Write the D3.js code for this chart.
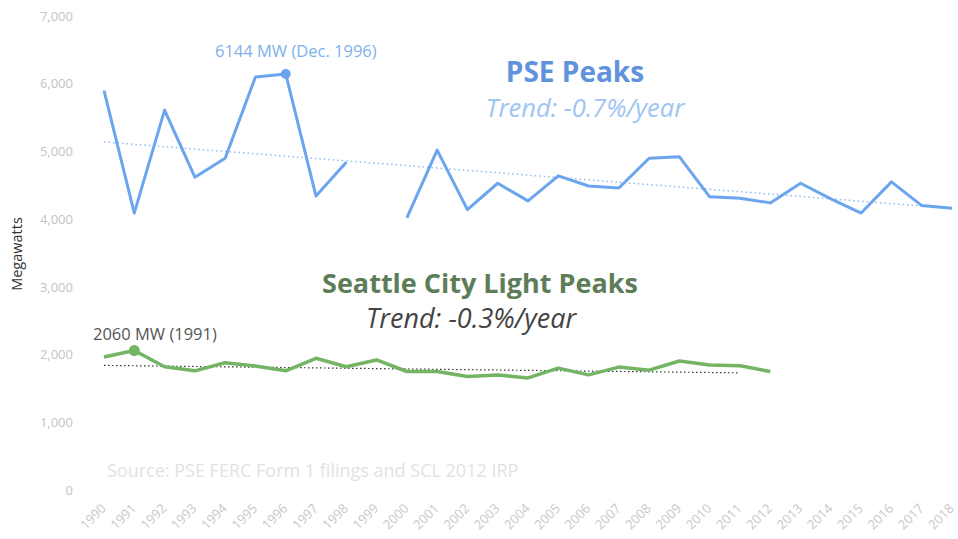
<!DOCTYPE html>
<html>
<head>
<meta charset="utf-8">
<script src="https://cdn.jsdelivr.net/npm/d3@7"></script>
<style>
  body { margin: 0; background: #fff; }
  text { font-family: "Open Sans", "Noto Sans", sans-serif; }
</style>
</head>
<body>
<script>
var years = d3.range(1990, 2019);
var yTicks = [0, 1000, 2000, 3000, 4000, 5000, 6000, 7000];

// PSE winter peaks (MW), no value for 1999
var pseYears = [1990, 1991, 1992, 1993, 1994, 1995, 1996, 1997, 1998, null,
                2000, 2001, 2002, 2003, 2004, 2005, 2006, 2007, 2008, 2009,
                2010, 2011, 2012, 2013, 2014, 2015, 2016, 2017, 2018];
var pseValues = [5900, 4090, 5610, 4620, 4900, 6100, 6144, 4340, 4840, null,
                 4020, 5020, 4140, 4530, 4270, 4640, 4490, 4460, 4900, 4920,
                 4330, 4310, 4240, 4530, 4300, 4090, 4550, 4200, 4160];
var pseTrend = [5140, 4160];

// Seattle City Light peaks (MW)
var sclYears = d3.range(1990, 2013);
var sclValues = [1965, 2060, 1820, 1760, 1880, 1830, 1760, 1945, 1820, 1920,
                 1750, 1750, 1675, 1700, 1655, 1800, 1700, 1815, 1770, 1905,
                 1845, 1835, 1750];
var sclTrend = [1840, 1730];

var w = 958;
var h = 539;

var x = d3.scaleLinear().domain([1990, 2018]).range([104, 952]);
var y = d3.scaleLinear().domain([0, 7000]).range([490, 16]);

var svg = d3.select("body")
    .append("svg")
    .attr("width", w)
    .attr("height", h);

// y axis labels
var yAxis = d3.axisLeft(y)
    .tickValues(yTicks)
    .tickFormat(d3.format(","))
    .tickSize(0)
    .tickPadding(0);

var gy = svg.append("g")
    .attr("transform", "translate(73,0)")
    .call(yAxis);
gy.select(".domain").remove();
gy.selectAll("text")
    .attr("fill", "#c4c4c4")
    .attr("font-size", "13px")
    .attr("font-family", "Open Sans, sans-serif");

svg.append("text")
    .attr("transform", "translate(22,254) rotate(-90)")
    .attr("text-anchor", "middle")
    .attr("font-size", "14.5px")
    .attr("fill", "#333")
    .text("Megawatts");

// x axis labels
var xAxis = d3.axisBottom(x)
    .tickValues(years)
    .tickFormat(d3.format("d"))
    .tickSize(0)
    .tickPadding(0);

var gx = svg.append("g")
    .attr("transform", "translate(0,500)")
    .call(xAxis);
gx.select(".domain").remove();
gx.selectAll("text")
    .attr("fill", "#c8c8c8")
    .attr("font-size", "13px")
    .attr("font-family", "Open Sans, sans-serif")
    .attr("text-anchor", "end")
    .attr("dy", "0.35em")
    .attr("transform", "translate(-1,6) rotate(-45)");

// source note
svg.append("text")
    .attr("x", 107)
    .attr("y", 477)
    .attr("font-size", "18px")
    .attr("fill", "#e2e2e2")
    .text("Source: PSE FERC Form 1 filings and SCL 2012 IRP");

// trend lines
svg.append("line")
    .attr("x1", x(1990)).attr("y1", y(pseTrend[0]))
    .attr("x2", x(2018)).attr("y2", y(pseTrend[1]))
    .attr("stroke", "#8fbbee")
    .attr("stroke-width", 1.5)
    .attr("stroke-dasharray", "1.5,3");

svg.append("line")
    .attr("x1", x(1990)).attr("y1", y(sclTrend[0]))
    .attr("x2", x(2011)).attr("y2", y(sclTrend[1]))
    .attr("stroke", "#333")
    .attr("stroke-width", 1.2)
    .attr("stroke-dasharray", "1.5,2.5");

var pseData = pseYears.map(function (d, i) {
    return { year: d, value: pseValues[i] };
});
var sclData = sclYears.map(function (d, i) {
    return { year: d, value: sclValues[i] };
});

var line = d3.line()
    .defined(function (d) { return d.value != null; })
    .x(function (d) { return x(d.year); })
    .y(function (d) { return y(d.value); });

svg.append("path")
    .datum(pseData)
    .attr("fill", "none")
    .attr("stroke", "#6aa5ee")
    .attr("stroke-width", 3)
    .attr("stroke-linejoin", "round")
    .attr("d", line);

svg.append("path")
    .datum(sclData)
    .attr("fill", "none")
    .attr("stroke", "#74b565")
    .attr("stroke-width", 3.5)
    .attr("stroke-linejoin", "round")
    .attr("d", line);

// peak markers
svg.append("circle")
    .attr("cx", x(1996)).attr("cy", y(6144))
    .attr("r", 5)
    .attr("fill", "#6aa5ee");

svg.append("circle")
    .attr("cx", x(1991)).attr("cy", y(2060))
    .attr("r", 5.5)
    .attr("fill", "#74b565");

svg.append("text")
    .attr("x", 215).attr("y", 57)
    .attr("font-size", "16.5px")
    .attr("fill", "#7eb0ea")
    .text("6144 MW (Dec. 1996)");

svg.append("text")
    .attr("x", 93).attr("y", 340)
    .attr("font-size", "16.5px")
    .attr("fill", "#555")
    .text("2060 MW (1991)");

// series titles
svg.append("text")
    .attr("x", 575).attr("y", 82)
    .attr("text-anchor", "middle")
    .attr("font-size", "28px")
    .attr("font-weight", "bold")
    .attr("fill", "#5f93dc")
    .text("PSE Peaks");

svg.append("text")
    .attr("x", 585).attr("y", 117)
    .attr("text-anchor", "middle")
    .attr("font-size", "25.5px")
    .attr("font-style", "italic")
    .attr("fill", "#9fc5f2")
    .text("Trend: -0.7%/year");

svg.append("text")
    .attr("x", 480).attr("y", 293)
    .attr("text-anchor", "middle")
    .attr("font-size", "27px")
    .attr("font-weight", "bold")
    .attr("fill", "#5d7d58")
    .text("Seattle City Light Peaks");

svg.append("text")
    .attr("x", 471).attr("y", 328)
    .attr("text-anchor", "middle")
    .attr("font-size", "27px")
    .attr("font-style", "italic")
    .attr("fill", "#444")
    .text("Trend: -0.3%/year");
</script>
</body>
</html>
